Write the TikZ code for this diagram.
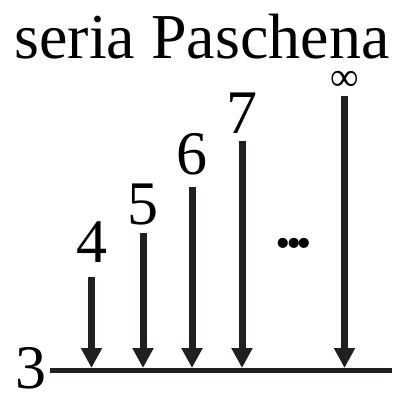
\documentclass[tikz,border=0pt]{standalone}
\usepackage{fontspec}
\setmainfont{Liberation Serif}
\usepackage{xcolor}
\usepackage{tikz}
\usetikzlibrary{arrows.meta,positioning,calc}
\definecolor{ink}{HTML}{231F20}
\tikzset{
  >={Triangle[width=20pt,length=20pt]},
  ttl/.style  ={font=\fontsize{64}{64}\selectfont, inner sep=0pt},
  lvl/.style  ={font=\fontsize{62}{62}\selectfont, inner sep=0pt},
  trans/.style={->, draw=ink, fill=ink, line width=7pt},
  base/.style ={draw=ink, line width=5pt},
}

\begin{document}
\begin{tikzpicture}[x=1pt,y=-1pt]
\useasboundingbox (0,0) rectangle (392,394);
\node[ttl, anchor=base] (title) at (202,58) {seria Paschena};
\node[lvl, anchor=base] (n3)   at (31.5,388) {3};
\coordinate (lvlL) at (50,370.5);
\coordinate (lvlR) at (392,370.5);
\draw[base] (lvlL) -- (lvlR);
% upper levels
\node[lvl, anchor=base] (n4)   at (91.5,262) {4};
\node[lvl, anchor=base] (n5)   at (143,224)  {5};
\node[lvl, anchor=base] (n6)   at (192,174)  {6};
\node[lvl, anchor=base] (n7)   at (242,133)  {7};
\node[inner sep=0pt, font=\fontsize{40}{40}\selectfont, anchor=south] (ninf) at (344.5,91) {∞};
\node[inner sep=0pt, font=\fontsize{62}{62}\selectfont\bfseries, anchor=base] (dots) at (294,247) {.\kern-5pt.\kern-5pt.};
% transitions
\draw[trans] ([yshift=-15pt]n4.south) -- ($(n4.south |- lvlL)+(0,-2.5)$);
\draw[trans] ([yshift=-8pt]n5.south)  -- ($(n5.south |- lvlL)+(0,-2.5)$);
\draw[trans] ([yshift=-12pt]n6.south) -- ($(n6.south |- lvlL)+(0,-2.5)$);
\draw[trans] ([yshift=-8pt]n7.south)  -- ($(n7.south |- lvlL)+(0,-2.5)$);
\draw[trans] ([yshift=-5pt]ninf.south) -- ($(ninf.south |- lvlL)+(0,-2.5)$);
\end{tikzpicture}
\end{document}
